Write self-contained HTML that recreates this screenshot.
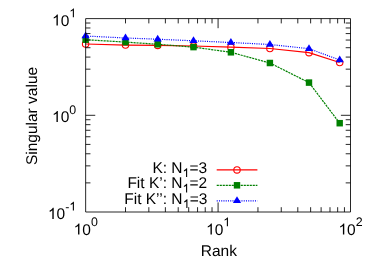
<!DOCTYPE html><html><head><meta charset="utf-8"><style>html,body{margin:0;padding:0;background:#fff}svg{display:block}text{font-family:"Liberation Sans",sans-serif;fill:#000;text-rendering:geometricPrecision}</style></head><body>
<svg width="374" height="262" viewBox="0 0 374 262">
<defs><filter id="nf" x="0" y="0" width="374" height="262" filterUnits="userSpaceOnUse"><feOffset dx="0" dy="0"/></filter></defs>
<rect width="374" height="262" fill="#fff"/>
<polyline points="85.6,44.0 125.5,45.1 157.7,45.4 193.5,46.0 230.9,47.2 269.9,48.5 309.0,52.7 339.7,62.5" fill="none" stroke="#ff0000" stroke-width="1.2"/>
<line x1="216.7" y1="169.9" x2="257.4" y2="169.9" stroke="#ff0000" stroke-width="1.2"/>
<circle cx="85.6" cy="44.0" r="3.2" fill="none" stroke="#ff0000" stroke-width="1.1"/>
<circle cx="125.5" cy="45.1" r="3.2" fill="none" stroke="#ff0000" stroke-width="1.1"/>
<circle cx="157.7" cy="45.4" r="3.2" fill="none" stroke="#ff0000" stroke-width="1.1"/>
<circle cx="193.5" cy="46.0" r="3.2" fill="none" stroke="#ff0000" stroke-width="1.1"/>
<circle cx="230.9" cy="47.2" r="3.2" fill="none" stroke="#ff0000" stroke-width="1.1"/>
<circle cx="269.9" cy="48.5" r="3.2" fill="none" stroke="#ff0000" stroke-width="1.1"/>
<circle cx="309.0" cy="52.7" r="3.2" fill="none" stroke="#ff0000" stroke-width="1.1"/>
<circle cx="339.7" cy="62.5" r="3.2" fill="none" stroke="#ff0000" stroke-width="1.1"/>
<circle cx="237.0" cy="169.9" r="3.2" fill="none" stroke="#ff0000" stroke-width="1.1"/>
<polyline points="85.6,39.7 125.5,42.1 157.7,44.3 193.5,47.1 230.9,52.3 269.9,63.0 309.0,82.6 339.7,123.2" fill="none" stroke="#008000" stroke-width="1.2" stroke-dasharray="2.15 0.85"/>
<line x1="216.7" y1="185.3" x2="257.4" y2="185.3" stroke="#008000" stroke-width="1.2" stroke-dasharray="2.15 0.85"/>
<rect x="82.4" y="36.45" width="6.4" height="6.5" fill="#008000"/>
<rect x="122.3" y="38.85" width="6.4" height="6.5" fill="#008000"/>
<rect x="154.5" y="41.05" width="6.4" height="6.5" fill="#008000"/>
<rect x="190.3" y="43.85" width="6.4" height="6.5" fill="#008000"/>
<rect x="227.7" y="49.05" width="6.4" height="6.5" fill="#008000"/>
<rect x="266.7" y="59.75" width="6.4" height="6.5" fill="#008000"/>
<rect x="305.8" y="79.35" width="6.4" height="6.5" fill="#008000"/>
<rect x="336.5" y="119.95" width="6.4" height="6.5" fill="#008000"/>
<rect x="233.8" y="182.05" width="6.4" height="6.5" fill="#008000"/>
<polyline points="85.6,36.0 125.5,38.0 157.7,39.2 193.5,40.8 230.9,42.5 269.9,44.5 309.0,48.7 339.7,60.0" fill="none" stroke="#0000ff" stroke-width="1.2" stroke-dasharray="1.05 1.2"/>
<line x1="216.7" y1="200.8" x2="257.4" y2="200.8" stroke="#0000ff" stroke-width="1.2" stroke-dasharray="1.05 1.2"/>
<path d="M85.6,31.5 L89.7,38.2 L81.5,38.2 Z" fill="#0000ff"/>
<path d="M125.5,33.5 L129.6,40.2 L121.4,40.2 Z" fill="#0000ff"/>
<path d="M157.7,34.7 L161.8,41.4 L153.6,41.4 Z" fill="#0000ff"/>
<path d="M193.5,36.3 L197.6,43.0 L189.4,43.0 Z" fill="#0000ff"/>
<path d="M230.9,38.0 L235.0,44.7 L226.8,44.7 Z" fill="#0000ff"/>
<path d="M269.9,40.0 L274.0,46.7 L265.8,46.7 Z" fill="#0000ff"/>
<path d="M309.0,44.2 L313.1,50.9 L304.9,50.9 Z" fill="#0000ff"/>
<path d="M339.7,55.5 L343.8,62.2 L335.6,62.2 Z" fill="#0000ff"/>
<path d="M237.0,196.3 L241.1,203.0 L232.9,203.0 Z" fill="#0000ff"/>
<path d="M125.51,212.0v-4.8M125.51,18.6v4.8M148.83,212.0v-4.8M148.83,18.6v4.8M165.38,212.0v-4.8M165.38,18.6v4.8M178.21,212.0v-4.8M178.21,18.6v4.8M188.70,212.0v-4.8M188.70,18.6v4.8M197.56,212.0v-4.8M197.56,18.6v4.8M205.24,212.0v-4.8M205.24,18.6v4.8M212.02,212.0v-4.8M212.02,18.6v4.8M218.08,212.0v-9.6M218.08,18.6v9.6M257.94,212.0v-4.8M257.94,18.6v4.8M281.26,212.0v-4.8M281.26,18.6v4.8M297.80,212.0v-4.8M297.80,18.6v4.8M310.64,212.0v-4.8M310.64,18.6v4.8M321.12,212.0v-4.8M321.12,18.6v4.8M329.99,212.0v-4.8M329.99,18.6v4.8M337.67,212.0v-4.8M337.67,18.6v4.8M344.44,212.0v-4.8M344.44,18.6v4.8M85.65,182.89h4.8M350.5,182.89h-4.8M85.65,165.86h4.8M350.5,165.86h-4.8M85.65,153.78h4.8M350.5,153.78h-4.8M85.65,144.41h4.8M350.5,144.41h-4.8M85.65,136.75h4.8M350.5,136.75h-4.8M85.65,130.28h4.8M350.5,130.28h-4.8M85.65,124.67h4.8M350.5,124.67h-4.8M85.65,119.72h4.8M350.5,119.72h-4.8M85.65,115.30h9.6M350.5,115.30h-9.6M85.65,86.19h4.8M350.5,86.19h-4.8M85.65,69.16h4.8M350.5,69.16h-4.8M85.65,57.08h4.8M350.5,57.08h-4.8M85.65,47.71h4.8M350.5,47.71h-4.8M85.65,40.05h4.8M350.5,40.05h-4.8M85.65,33.58h4.8M350.5,33.58h-4.8M85.65,27.97h4.8M350.5,27.97h-4.8M85.65,23.02h4.8M350.5,23.02h-4.8" stroke="#000" stroke-width="0.85" fill="none" stroke-linejoin="round"/>
<rect x="85.65" y="18.6" width="264.85" height="193.4" fill="none" stroke="#000" stroke-width="0.85" stroke-linejoin="round"/>
<g filter="url(#nf)">
<path transform="translate(52.06,25.60) scale(0.007568,-0.007568)" d="M763 0H583V1147Q518 1085 412.5 1023Q307 961 223 930V1104Q374 1175 487 1276Q600 1377 647 1472H763Z" fill="#000"/><text x="60.68" y="25.60" font-size="15.5">0</text><path transform="translate(69.30,17.30) scale(0.006055,-0.006055)" d="M763 0H583V1147Q518 1085 412.5 1023Q307 961 223 930V1104Q374 1175 487 1276Q600 1377 647 1472H763Z" fill="#000"/>
<path transform="translate(52.06,122.10) scale(0.007568,-0.007568)" d="M763 0H583V1147Q518 1085 412.5 1023Q307 961 223 930V1104Q374 1175 487 1276Q600 1377 647 1472H763Z" fill="#000"/><text x="60.68" y="122.10" font-size="15.5">0</text><text x="69.30" y="113.80" font-size="12.4">0</text>
<path transform="translate(47.93,218.90) scale(0.007568,-0.007568)" d="M763 0H583V1147Q518 1085 412.5 1023Q307 961 223 930V1104Q374 1175 487 1276Q600 1377 647 1472H763Z" fill="#000"/><text x="56.55" y="218.90" font-size="15.5">0</text><text x="65.17" y="210.60" font-size="12.4">-</text><path transform="translate(69.30,210.60) scale(0.006055,-0.006055)" d="M763 0H583V1147Q518 1085 412.5 1023Q307 961 223 930V1104Q374 1175 487 1276Q600 1377 647 1472H763Z" fill="#000"/>
<path transform="translate(73.65,234.60) scale(0.007568,-0.007568)" d="M763 0H583V1147Q518 1085 412.5 1023Q307 961 223 930V1104Q374 1175 487 1276Q600 1377 647 1472H763Z" fill="#000"/><text x="82.27" y="234.60" font-size="15.5">0</text><text x="90.89" y="226.30" font-size="12.4">0</text>
<path transform="translate(206.08,234.60) scale(0.007568,-0.007568)" d="M763 0H583V1147Q518 1085 412.5 1023Q307 961 223 930V1104Q374 1175 487 1276Q600 1377 647 1472H763Z" fill="#000"/><text x="214.70" y="234.60" font-size="15.5">0</text><path transform="translate(223.32,226.30) scale(0.006055,-0.006055)" d="M763 0H583V1147Q518 1085 412.5 1023Q307 961 223 930V1104Q374 1175 487 1276Q600 1377 647 1472H763Z" fill="#000"/>
<path transform="translate(338.50,234.60) scale(0.007568,-0.007568)" d="M763 0H583V1147Q518 1085 412.5 1023Q307 961 223 930V1104Q374 1175 487 1276Q600 1377 647 1472H763Z" fill="#000"/><text x="347.12" y="234.60" font-size="15.5">0</text><text x="355.74" y="226.30" font-size="12.4">2</text>
<text x="218.8" y="256.0" font-size="15.5" text-anchor="middle">Rank</text>
<text transform="translate(37,116) rotate(-90)" font-size="15.5" text-anchor="middle">Singular value</text>
<text x="152.39" y="172.60" font-size="15.5">K: N</text><path transform="translate(182.53,177.10) scale(0.006055,-0.006055)" d="M763 0H583V1147Q518 1085 412.5 1023Q307 961 223 930V1104Q374 1175 487 1276Q600 1377 647 1472H763Z" fill="#000"/><text x="189.43" y="172.60" font-size="15.5">=3</text>
<text x="127.42" y="188.10" font-size="15.5">Fit K’: N</text><path transform="translate(182.53,192.60) scale(0.006055,-0.006055)" d="M763 0H583V1147Q518 1085 412.5 1023Q307 961 223 930V1104Q374 1175 487 1276Q600 1377 647 1472H763Z" fill="#000"/><text x="189.43" y="188.10" font-size="15.5">=2</text>
<text x="124.25" y="203.60" font-size="15.5">Fit K’’: N</text><path transform="translate(182.81,208.10) scale(0.006055,-0.006055)" d="M763 0H583V1147Q518 1085 412.5 1023Q307 961 223 930V1104Q374 1175 487 1276Q600 1377 647 1472H763Z" fill="#000"/><text x="189.71" y="203.60" font-size="15.5">=3</text>
</g>
</svg></body></html>
